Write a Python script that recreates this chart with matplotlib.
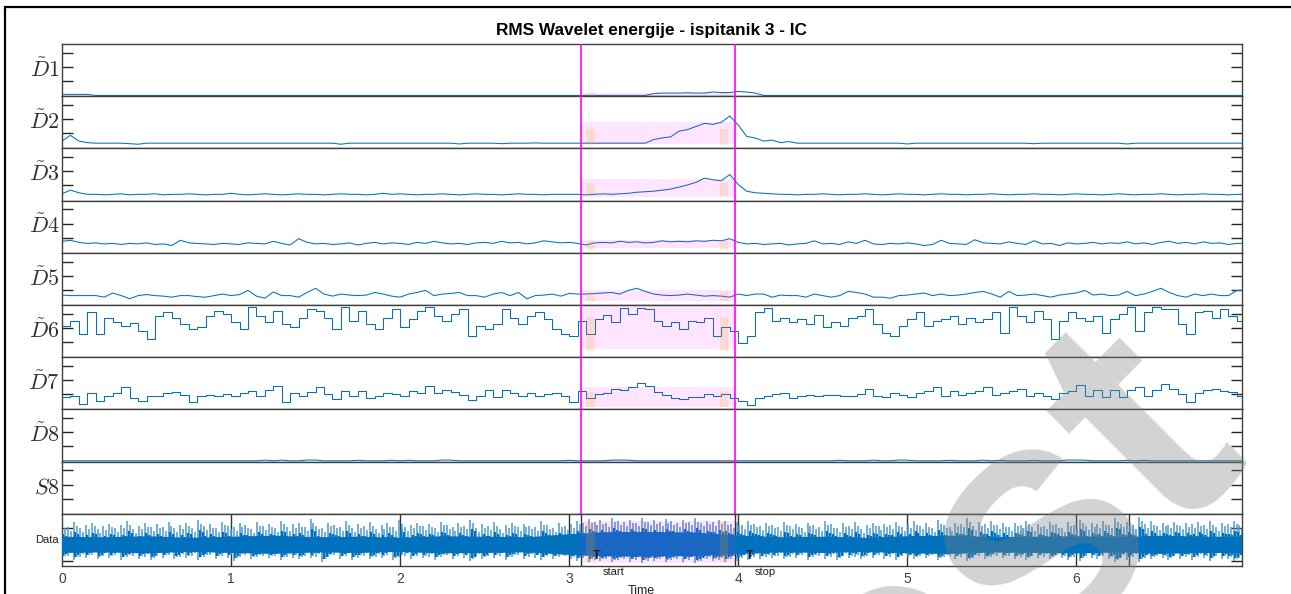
import matplotlib.pyplot as plt
import numpy as np
from matplotlib.patches import Rectangle

plt.rcParams['font.family'] = ['Liberation Sans', 'DejaVu Sans']
plt.rcParams['mathtext.fontset'] = 'cm'

# sampling steps of the series (seconds)
DT = 0.05
DT_RAW = 0.035
DT_BAND = 0.25

title = "RMS Wavelet energije - ispitanik 3 - IC"
labels = [r"$\tilde{D}1$", r"$\tilde{D}2$", r"$\tilde{D}3$", r"$\tilde{D}4$", r"$\tilde{D}5$",
          r"$\tilde{D}6$", r"$\tilde{D}7$", r"$\tilde{D}8$", r"$S8$"]
xticks = [0, 1, 2, 3, 4, 5, 6]

# RMS energy per band, in panel units (0 = bottom, 1 = top of its strip)
d1 = [0.035] * 4 + [0.015] * 66 + [0.05, 0.06, 0.06, 0.06, 0.065, 0.06, 0.06, 0.08, 0.07, 0.07,
                                   0.09, 0.08, 0.06] + [0.015] * 57
d2 = ([0.14, 0.25, 0.14, 0.11, 0.10]
      + [0.10, 0.10, 0.10, 0.09, 0.08, 0.10, 0.10, 0.10, 0.10, 0.10, 0.10, 0.10, 0.10, 0.10, 0.10]
      + [0.10] * 13 + [0.08] + [0.10] * 6
      + [0.10] * 7 + [0.085] + [0.10] * 4 + [0.09] + [0.10] * 3 + [0.105] + [0.10] * 3
      + [0.10] * 9
      + [0.10, 0.17, 0.20, 0.22, 0.33, 0.36, 0.42, 0.48, 0.46, 0.50, 0.62, 0.45, 0.23, 0.20, 0.14,
         0.16, 0.11, 0.13, 0.10]
      + [0.10] * 12 + [0.085] + [0.10] * 14 + [0.09] + [0.10] * 10 + [0.085] + [0.10] * 13)
d3 = ([0.13, 0.20, 0.15, 0.12]
      + [0.12, 0.11, 0.12, 0.13, 0.11, 0.12, 0.12, 0.13, 0.11, 0.12,
         0.12, 0.13, 0.12, 0.11, 0.12, 0.12, 0.14, 0.12, 0.11, 0.12,
         0.13, 0.12, 0.11, 0.12, 0.13, 0.12, 0.12, 0.11, 0.12, 0.13,
         0.12, 0.12, 0.11, 0.12, 0.14, 0.12, 0.13, 0.12, 0.11, 0.12,
         0.12, 0.13, 0.12, 0.11, 0.12, 0.13, 0.12, 0.12, 0.11, 0.12,
         0.13, 0.12, 0.12, 0.11, 0.12, 0.12]
      + [0.12, 0.12, 0.11, 0.12, 0.13, 0.12, 0.13, 0.14, 0.16]
      + [0.17, 0.18, 0.20, 0.22, 0.26, 0.30, 0.35, 0.43, 0.40, 0.38, 0.50, 0.31, 0.18, 0.15, 0.14,
         0.13, 0.12]
      + [0.12, 0.11, 0.12, 0.12, 0.13, 0.12, 0.11, 0.12, 0.12, 0.13,
         0.12, 0.11, 0.12, 0.13, 0.12, 0.12, 0.11, 0.12, 0.13, 0.12,
         0.12, 0.11, 0.12, 0.12, 0.13, 0.12, 0.11, 0.12, 0.12, 0.13,
         0.12, 0.12, 0.11, 0.12, 0.13, 0.12, 0.12, 0.11, 0.12, 0.13,
         0.12, 0.11, 0.12, 0.12, 0.13, 0.12, 0.11, 0.12, 0.12, 0.13,
         0.12, 0.12, 0.11, 0.12])
d4 = [0.22, 0.24, 0.20, 0.18, 0.19, 0.17, 0.18, 0.16, 0.18, 0.17, 0.19, 0.16, 0.17, 0.14, 0.24, 0.19, 0.18, 0.17, 0.16, 0.18,
      0.17, 0.16, 0.19, 0.18, 0.17, 0.22, 0.18, 0.15, 0.27, 0.20, 0.17, 0.18, 0.16, 0.17, 0.19, 0.15, 0.18, 0.20, 0.17, 0.19,
      0.18, 0.16, 0.20, 0.18, 0.22, 0.19, 0.17, 0.18, 0.16, 0.19, 0.20, 0.18, 0.22, 0.19, 0.20, 0.17, 0.19, 0.23, 0.21, 0.19,
      0.20, 0.18, 0.15, 0.19, 0.20, 0.19, 0.22, 0.20, 0.21, 0.19, 0.20, 0.23, 0.21, 0.22, 0.21, 0.23, 0.22, 0.24, 0.23, 0.27,
      0.20, 0.17, 0.18, 0.16, 0.17, 0.18, 0.15, 0.17, 0.18, 0.23, 0.17, 0.18, 0.16, 0.21, 0.18, 0.24, 0.17, 0.16, 0.18, 0.17,
      0.19, 0.17, 0.14, 0.16, 0.24, 0.18, 0.17, 0.16, 0.25, 0.19, 0.18, 0.17, 0.21, 0.18, 0.16, 0.23, 0.17, 0.18, 0.14, 0.19,
      0.17, 0.18, 0.20, 0.17, 0.19, 0.18, 0.21, 0.17, 0.19, 0.16, 0.20, 0.22, 0.18, 0.20, 0.17, 0.21, 0.18, 0.19, 0.16, 0.18]
d5 = [0.19, 0.18, 0.18, 0.18, 0.18, 0.15, 0.23, 0.18, 0.12, 0.18, 0.20, 0.18, 0.17, 0.15, 0.18, 0.18, 0.16, 0.15, 0.18, 0.21,
      0.18, 0.20, 0.28, 0.17, 0.13, 0.25, 0.18, 0.18, 0.15, 0.24, 0.32, 0.21, 0.17, 0.21, 0.19, 0.18, 0.19, 0.24, 0.21, 0.17,
      0.15, 0.21, 0.24, 0.28, 0.18, 0.21, 0.22, 0.24, 0.18, 0.18, 0.15, 0.21, 0.24, 0.18, 0.24, 0.12, 0.18, 0.19, 0.21, 0.17,
      0.22, 0.21, 0.21, 0.22, 0.23, 0.24, 0.21, 0.28, 0.32, 0.26, 0.21, 0.19, 0.18, 0.19, 0.21, 0.19, 0.17, 0.18, 0.17, 0.15,
      0.21, 0.18, 0.21, 0.21, 0.15, 0.19, 0.18, 0.18, 0.15, 0.21, 0.18, 0.15, 0.18, 0.26, 0.24, 0.21, 0.15, 0.15, 0.13, 0.18,
      0.19, 0.21, 0.23, 0.18, 0.21, 0.18, 0.19, 0.21, 0.24, 0.26, 0.21, 0.15, 0.26, 0.18, 0.19, 0.21, 0.18, 0.15, 0.19, 0.21,
      0.23, 0.28, 0.19, 0.21, 0.18, 0.19, 0.26, 0.18, 0.21, 0.26, 0.32, 0.24, 0.18, 0.15, 0.21, 0.18, 0.21, 0.18, 0.18, 0.28]
d6 = [0.60, 0.70, 0.44, 0.86, 0.44, 0.76, 0.67, 0.60, 0.66, 0.50, 0.35, 0.79, 0.86, 0.76, 0.63, 0.54, 0.57, 0.79, 0.89, 0.83,
      0.67, 0.54, 0.97, 0.79, 0.67, 0.89, 0.63, 0.57, 0.76, 0.92, 0.89, 0.76, 0.54, 0.97, 0.70, 0.89, 0.63, 0.54, 0.76, 0.92,
      0.57, 0.73, 0.89, 0.96, 0.79, 0.70, 0.83, 0.92, 0.40, 0.60, 0.54, 0.63, 0.92, 0.76, 0.63, 0.79, 0.86, 0.73, 0.54, 0.44,
      0.40, 0.70, 0.45, 0.73, 0.81, 0.67, 0.95, 0.83, 0.95, 0.92, 0.70, 0.60, 0.67, 0.54, 0.70, 0.67, 0.76, 0.41, 0.57, 0.51,
      0.28, 0.41, 0.86, 0.95, 0.70, 0.76, 0.67, 0.73, 0.63, 0.80, 0.57, 0.67, 0.60, 0.76, 0.79, 0.92, 0.63, 0.47, 0.41, 0.60,
      0.73, 0.86, 0.60, 0.70, 0.73, 0.79, 0.63, 0.76, 0.67, 0.73, 0.86, 0.47, 0.97, 0.79, 0.67, 0.89, 0.73, 0.35, 0.70, 0.86,
      0.76, 0.70, 0.79, 0.47, 0.73, 0.83, 0.96, 0.50, 0.86, 0.97, 0.92, 0.92, 0.63, 0.44, 0.86, 0.89, 0.76, 0.92, 0.79, 0.70]
d7 = [0.23, 0.26, 0.10, 0.32, 0.16, 0.26, 0.31, 0.42, 0.21, 0.16, 0.25, 0.26, 0.31, 0.33, 0.27, 0.14, 0.26, 0.28, 0.26, 0.29,
      0.26, 0.32, 0.36, 0.25, 0.37, 0.45, 0.14, 0.32, 0.26, 0.33, 0.42, 0.29, 0.19, 0.36, 0.26, 0.36, 0.21, 0.26, 0.31, 0.29,
      0.26, 0.36, 0.32, 0.44, 0.32, 0.38, 0.33, 0.28, 0.18, 0.26, 0.38, 0.23, 0.37, 0.32, 0.26, 0.32, 0.26, 0.29, 0.32, 0.25,
      0.14, 0.36, 0.22, 0.29, 0.32, 0.40, 0.38, 0.42, 0.51, 0.44, 0.33, 0.27, 0.21, 0.19, 0.24, 0.24, 0.29, 0.26, 0.29, 0.22,
      0.16, 0.08, 0.21, 0.26, 0.29, 0.31, 0.21, 0.26, 0.28, 0.26, 0.27, 0.27, 0.26, 0.26, 0.29, 0.39, 0.26, 0.23, 0.31, 0.27,
      0.23, 0.31, 0.36, 0.42, 0.26, 0.36, 0.27, 0.31, 0.36, 0.42, 0.27, 0.31, 0.36, 0.40, 0.26, 0.31, 0.26, 0.19, 0.32, 0.36,
      0.46, 0.26, 0.38, 0.23, 0.38, 0.23, 0.38, 0.42, 0.26, 0.38, 0.48, 0.40, 0.29, 0.14, 0.31, 0.38, 0.40, 0.36, 0.33, 0.26]
d8 = ([0.015] * 24 + [0.028, 0.015, 0.028] + [0.015] * 2 + [0.03, 0.03] + [0.015] * 4 + [0.025]
      + [0.015] * 3 + [0.025, 0.015, 0.025] + [0.015] * 3 + [0.03, 0.028] + [0.015] * 13 + [0.025]
      + [0.015] * 4 + [0.028, 0.03, 0.028] + [0.015] * 24 + [0.025] + [0.015] * 3 + [0.028]
      + [0.015] * 2 + [0.03, 0.028] + [0.015] * 4 + [0.025] + [0.015] * 3 + [0.028, 0.015, 0.025]
      + [0.015] * 3 + [0.025] + [0.015] * 3 + [0.03, 0.03, 0.028] + [0.015] * 4
      + [0.025, 0.015, 0.025] + [0.015] * 11)
s8 = [0.0] * 140

# raw signal: spike tops / bottoms and the dense core band
data_hi = [0.80, 0.74, 0.84, 0.72, 0.78, 0.83, 0.70, 0.76, 0.81, 0.73, 0.79, 0.86, 0.71, 0.77, 0.82, 0.74, 0.80, 0.75, 0.84, 0.72,
           0.78, 0.83, 0.73, 0.88, 0.76, 0.80, 0.72, 0.85, 0.77, 0.74, 0.82, 0.79, 0.71, 0.84, 0.76, 0.81, 0.73, 0.87, 0.75, 0.80,
           0.82, 0.74, 0.90, 0.77, 0.72, 0.83, 0.79, 0.75, 0.86, 0.73, 0.80, 0.76, 0.84, 0.71, 0.78, 0.82, 0.75, 0.88, 0.74, 0.79,
           0.83, 0.76, 0.81, 0.72, 0.85, 0.78, 0.74, 0.82, 0.77, 0.89, 0.73, 0.80, 0.76, 0.84, 0.71, 0.79, 0.83, 0.75, 0.81, 0.77,
           0.74, 0.86, 0.78, 0.72, 0.82, 0.76, 0.80, 0.87, 0.83, 0.90, 0.85, 0.88, 0.82, 0.91, 0.86, 0.84, 0.89, 0.83, 0.92, 0.85,
           0.88, 0.84, 0.90, 0.86, 0.82, 0.89, 0.85, 0.91, 0.83, 0.87, 0.84, 0.88, 0.86, 0.80, 0.84, 0.78, 0.86, 0.81, 0.76, 0.83,
           0.79, 0.74, 0.85, 0.77, 0.81, 0.72, 0.83, 0.78, 0.75, 0.86, 0.80, 0.73, 0.82, 0.77, 0.84, 0.71, 0.79, 0.83, 0.76, 0.81,
           0.78, 0.84, 0.74, 0.80, 0.86, 0.77, 0.82, 0.73, 0.88, 0.79, 0.75, 0.83, 0.81, 0.91, 0.76, 0.84, 0.80, 0.86, 0.78, 0.82,
           0.75, 0.83, 0.79, 0.87, 0.74, 0.81, 0.77, 0.85, 0.80, 0.72, 0.84, 0.78, 0.89, 0.76, 0.82, 0.80, 0.86, 0.79, 0.92, 0.81,
           0.84, 0.78, 0.93, 0.80, 0.86, 0.76, 0.83, 0.79, 0.85, 0.77, 0.82, 0.80, 0.84, 0.78, 0.86, 0.75, 0.83, 0.81, 0.87, 0.79]
data_lo = [0.14, 0.20, 0.12, 0.18, 0.16, 0.22, 0.13, 0.19, 0.15, 0.21, 0.12, 0.17, 0.20, 0.14, 0.18, 0.11, 0.19, 0.16, 0.21, 0.13,
           0.18, 0.15, 0.20, 0.12, 0.17, 0.22, 0.14, 0.19, 0.16, 0.10, 0.18, 0.21, 0.13, 0.17, 0.20, 0.15, 0.19, 0.12, 0.18, 0.16,
           0.13, 0.20, 0.15, 0.18, 0.08, 0.17, 0.21, 0.14, 0.19, 0.12, 0.16, 0.20, 0.13, 0.18, 0.15, 0.21, 0.11, 0.17, 0.19, 0.14,
           0.20, 0.15, 0.18, 0.12, 0.17, 0.21, 0.14, 0.19, 0.16, 0.09, 0.18, 0.13, 0.20, 0.16, 0.19, 0.12, 0.17, 0.21, 0.14, 0.18,
           0.16, 0.12, 0.19, 0.14, 0.17, 0.20, 0.13, 0.10, 0.15, 0.08, 0.12, 0.09, 0.14, 0.07, 0.11, 0.13, 0.08, 0.12, 0.06, 0.10,
           0.09, 0.13, 0.07, 0.11, 0.14, 0.08, 0.12, 0.05, 0.10, 0.13, 0.09, 0.11, 0.08, 0.14, 0.10, 0.16, 0.12, 0.18, 0.14, 0.17,
           0.15, 0.20, 0.13, 0.18, 0.16, 0.21, 0.12, 0.17, 0.19, 0.14, 0.18, 0.11, 0.20, 0.15, 0.17, 0.13, 0.19, 0.16, 0.21, 0.14,
           0.18, 0.12, 0.20, 0.16, 0.13, 0.19, 0.15, 0.21, 0.11, 0.17, 0.20, 0.14, 0.18, 0.09, 0.16, 0.19, 0.13, 0.17, 0.20, 0.15,
           0.19, 0.14, 0.17, 0.11, 0.20, 0.16, 0.18, 0.13, 0.21, 0.15, 0.12, 0.18, 0.10, 0.19, 0.16, 0.14, 0.20, 0.13, 0.07, 0.17,
           0.12, 0.18, 0.08, 0.16, 0.13, 0.20, 0.15, 0.11, 0.19, 0.14, 0.17, 0.12, 0.18, 0.15, 0.10, 0.19, 0.14, 0.13, 0.09, 0.16]
band_hi = [0.57, 0.56, 0.58, 0.55, 0.57, 0.59, 0.56, 0.57, 0.55, 0.58, 0.57, 0.56, 0.62, 0.66,
           0.66, 0.65, 0.59, 0.56, 0.57, 0.55, 0.58, 0.59, 0.56, 0.57, 0.58, 0.56, 0.59, 0.57]
band_lo = [0.26, 0.27, 0.25, 0.28, 0.26, 0.24, 0.27, 0.26, 0.28, 0.25, 0.26, 0.27, 0.22, 0.19,
           0.19, 0.20, 0.24, 0.27, 0.26, 0.28, 0.25, 0.24, 0.27, 0.26, 0.25, 0.27, 0.24, 0.26]

# event markers
t_start, t_stop = 3.07, 3.98
win_start = (3.10, 3.15)
win_stop = (3.89, 3.94)
pink_span = [(0.0, 0.07), (0.075, 0.50), (0.07, 0.42), (0.09, 0.25), (0.08, 0.29),
             (0.15, 0.99), (0.045, 0.42), (0.0, 0.04), (0.0, 0.0), (0.06, 0.87)]
orange_span = [(0.0, 0.06), (0.06, 0.38), (0.08, 0.33), (0.06, 0.22), (0.08, 0.25),
               (0.12, 0.77), (0.04, 0.33), (0.0, 0.03), (0.0, 0.0), (0.08, 0.85)]
data_marks = [1, 2, 3, 3.07, 3.98, 4, 5, 6, 6.31]
stepped = [False, False, False, False, False, True, True, False, False]

BLUE = "#0072BD"
LIGHT = "#4a9ad6"
EDGE = "#262626"
W, H = 1291, 594
x0, x1 = 62, 1242
top, ph = 44, 52.2

fig = plt.figure(figsize=(W / 100, H / 100), dpi=100)

series = [d1, d2, d3, d4, d5, d6, d7, d8, s8]
axes = []
for i in range(10):
    ax = fig.add_axes([x0 / W, 1 - (top + ph * (i + 1)) / H, (x1 - x0) / W, ph / H])
    ax.set_xlim(0, 6.98)
    ax.set_ylim(0, 1)
    for sp in ax.spines.values():
        sp.set_color("#404040")
        sp.set_linewidth(1.0)
    axes.append(ax)

for i, (ax, vals) in enumerate(zip(axes[:9], series)):
    t = np.arange(len(vals)) * DT
    ax.plot(np.append(t, 7.0), np.append(vals, vals[-1]), color=BLUE, lw=0.75,
            drawstyle="steps-post" if stepped[i] else "default")
    ax.set_xticks([])
    ax.set_yticks([0.29, 0.56, 0.83])
    ax.tick_params(axis="y", direction="in", length=8, width=1, color=EDGE,
                   left=True, right=True, labelleft=False)
    ax.text(-0.002, 0.5, labels[i], transform=ax.transAxes, ha="right", va="center",
            fontsize=16, color="#303030")
    ax.axvline(t_start, color="#FF00FF", lw=1.2, zorder=4)
    ax.axvline(t_stop, color="#FF00FF", lw=1.2, zorder=4)

# raw data strip
axd = axes[9]
for m in data_marks:
    axd.axvline(m, color="#333333", lw=1.0, zorder=1)
tr = np.arange(len(data_hi)) * DT_RAW
hi = np.array(data_hi)
lo = np.array(data_lo)
axd.vlines(tr, lo, hi, color=LIGHT, lw=1.1, zorder=2)
axd.vlines(tr + DT_RAW / 2, lo + 0.05, hi - 0.07, color=LIGHT, lw=1.1, zorder=2)
tb = np.arange(len(band_hi)) * DT_BAND
axd.fill_between(np.append(tb, 7.0), np.append(band_lo, band_lo[-1]),
                 np.append(band_hi, band_hi[-1]), color=BLUE, lw=0, zorder=2.5)
# jagged edge of the dense core
axd.vlines(tr + DT_RAW / 4, lo + 0.06, hi - 0.19, color=BLUE, lw=1.6, zorder=2.6)
axd.vlines(tr + 3 * DT_RAW / 4, lo + 0.09, hi - 0.22, color=BLUE, lw=1.6, zorder=2.6)
axd.set_yticks([0.1, 0.73])
axd.set_xticks(xticks)
axd.tick_params(axis="y", direction="in", length=8, width=1, color=EDGE,
                left=True, right=True, labelleft=False)
axd.tick_params(axis="x", direction="in", length=0, labelsize=10, labelcolor="#404040", pad=4)
axd.text(-0.003, 0.5, "Data", transform=axd.transAxes, ha="right", va="center",
         fontsize=8, color="#202020")
for tx, name in [(3.165, "start"), (4.065, "stop")]:
    axd.text(tx, 0.2, "T", ha="center", va="center", fontsize=9, weight="bold", color="#202020",
             zorder=5)
    axd.text(tx + 0.035, -0.02, name, ha="left", va="top", fontsize=8, color="#202020",
             clip_on=False)

# stimulus windows
for ax, ps, os in zip(axes, pink_span, orange_span):
    if ps[1] > ps[0]:
        ax.fill_between([t_start, t_stop], ps[0], ps[1], color="magenta", alpha=0.1, lw=0, zorder=3)
    if os[1] > os[0]:
        for w in (win_start, win_stop):
            ax.fill_between(list(w), os[0], os[1], color="orange", alpha=0.18, lw=0, zorder=3)

fig.text(652 / W, 1 - 30 / H, title, ha="center", va="center", fontsize=12.4, weight="bold")
fig.text(641 / W, 1 - 585 / H, "Time", ha="center", va="top", fontsize=9, color="#202020")

fig.patches.append(Rectangle((5 / W, -0.2), 1.5, 1.2 - 7 / H, transform=fig.transFigure,
                             fill=False, edgecolor="black", lw=1.6))

fig.text(950 / W, 1 - 635 / H, "Test", rotation=45, rotation_mode="anchor", ha="center",
         va="center", fontsize=246, weight="bold", color="#808080", alpha=0.35)

fig.savefig("out.png", dpi=100)
